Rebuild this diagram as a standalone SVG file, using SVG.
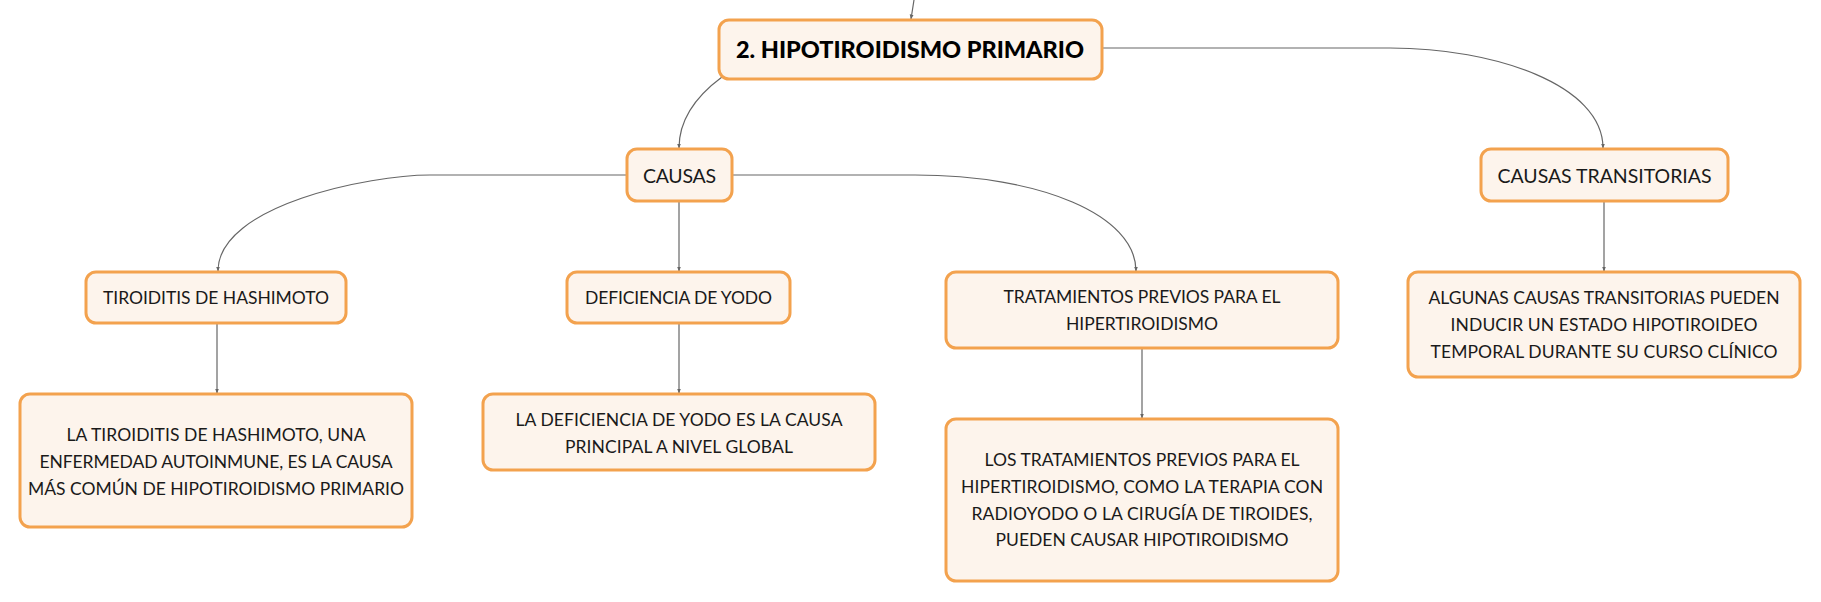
<svg xmlns="http://www.w3.org/2000/svg" width="1821" height="602" viewBox="0 0 1821 602">
<defs>
<marker id="arr" viewBox="0 0 10 10" refX="9" refY="5" markerWidth="5" markerHeight="5" orient="auto" markerUnits="userSpaceOnUse">
<path d="M0,1 L10,5 L0,9 z" fill="#666"/>
</marker>
</defs>
<style>
.box{fill:#fdf4ec;stroke:#f3a24e;stroke-width:3}
.t{font-family:Lato,"Open Sans","Liberation Sans",sans-serif;font-size:17.5px;fill:#1a1a1a;text-anchor:middle;dominant-baseline:central}
.t2{font-size:19.5px}
.tb{font-family:Lato,"Open Sans","Liberation Sans",sans-serif;font-size:23.5px;font-weight:900;fill:#000;text-anchor:middle;dominant-baseline:central}
.c{fill:none;stroke:#666;stroke-width:1.2;marker-end:url(#arr)}
</style>
<rect width="1821" height="602" fill="#fff"/>
<g id="connectors">
<path class="c" d="M914,0 L911,19"/>
<path class="c" d="M722,77 C695,97 679,120 679,148"/>
<path class="c" d="M1102,48 L1390,48 C1495,48 1603,85 1603,148"/>
<path class="c" d="M627,175 L430,175 C370,175 218,205 218,271"/>
<path class="c" d="M679,201 L679,271"/>
<path class="c" d="M732,175 L915,175 C1040,175 1136,215 1136,271"/>
<path class="c" d="M1604,201 L1604,271"/>
<path class="c" d="M217,323 L217,393"/>
<path class="c" d="M679,323 L679,393"/>
<path class="c" d="M1142,348 L1142,418"/>
</g>
<g id="n-main">
<rect class="box" x="719" y="20" width="383" height="59" rx="10"/>
<text class="tb" x="910" y="49" textLength="348" lengthAdjust="spacing">2. HIPOTIROIDISMO PRIMARIO</text>
</g>
<g id="n-causas">
<rect class="box" x="627" y="149" width="105" height="52" rx="10"/>
<text class="t t2" x="679.5" y="175" textLength="73" lengthAdjust="spacing">CAUSAS</text>
</g>
<g id="n-transitorias">
<rect class="box" x="1481" y="149" width="247" height="52" rx="10"/>
<text class="t t2" x="1604.5" y="175" textLength="214" lengthAdjust="spacing">CAUSAS TRANSITORIAS</text>
</g>
<g id="n-hashimoto">
<rect class="box" x="86" y="272" width="260" height="51" rx="10"/>
<text class="t" x="216" y="297.5" textLength="226" lengthAdjust="spacing">TIROIDITIS DE HASHIMOTO</text>
</g>
<g id="n-yodo">
<rect class="box" x="567" y="272" width="223" height="51" rx="10"/>
<text class="t" x="678.5" y="297.5" textLength="187" lengthAdjust="spacing">DEFICIENCIA DE YODO</text>
</g>
<g id="n-tratamientos">
<rect class="box" x="946" y="272" width="392" height="76" rx="10"/>
<text class="t" x="1142" y="296" textLength="277" lengthAdjust="spacing">TRATAMIENTOS PREVIOS PARA EL</text>
<text class="t" x="1142" y="323" textLength="152" lengthAdjust="spacing">HIPERTIROIDISMO</text>
</g>
<g id="n-algunas">
<rect class="box" x="1408" y="272" width="392" height="105" rx="10"/>
<text class="t" x="1604" y="297" textLength="351" lengthAdjust="spacing">ALGUNAS CAUSAS TRANSITORIAS PUEDEN</text>
<text class="t" x="1604" y="324" textLength="307" lengthAdjust="spacing">INDUCIR UN ESTADO HIPOTIROIDEO</text>
<text class="t" x="1604" y="351" textLength="347" lengthAdjust="spacing">TEMPORAL DURANTE SU CURSO CLÍNICO</text>
</g>
<g id="n-la-tiroiditis">
<rect class="box" x="20" y="394" width="392" height="133" rx="10"/>
<text class="t" x="216" y="434" textLength="299" lengthAdjust="spacing">LA TIROIDITIS DE HASHIMOTO, UNA</text>
<text class="t" x="216" y="461" textLength="353" lengthAdjust="spacing">ENFERMEDAD AUTOINMUNE, ES LA CAUSA</text>
<text class="t" x="216" y="488" textLength="376" lengthAdjust="spacing">MÁS COMÚN DE HIPOTIROIDISMO PRIMARIO</text>
</g>
<g id="n-la-deficiencia">
<rect class="box" x="483" y="394" width="392" height="76" rx="10"/>
<text class="t" x="679" y="419" textLength="327" lengthAdjust="spacing">LA DEFICIENCIA DE YODO ES LA CAUSA</text>
<text class="t" x="679" y="446" textLength="228" lengthAdjust="spacing">PRINCIPAL A NIVEL GLOBAL</text>
</g>
<g id="n-los-tratamientos">
<rect class="box" x="946" y="419" width="392" height="162" rx="10"/>
<text class="t" x="1142" y="459" textLength="315" lengthAdjust="spacing">LOS TRATAMIENTOS PREVIOS PARA EL</text>
<text class="t" x="1142" y="486" textLength="362" lengthAdjust="spacing">HIPERTIROIDISMO, COMO LA TERAPIA CON</text>
<text class="t" x="1142" y="513" textLength="341" lengthAdjust="spacing">RADIOYODO O LA CIRUGÍA DE TIROIDES,</text>
<text class="t" x="1142" y="539" textLength="293" lengthAdjust="spacing">PUEDEN CAUSAR HIPOTIROIDISMO</text>
</g>
</svg>
